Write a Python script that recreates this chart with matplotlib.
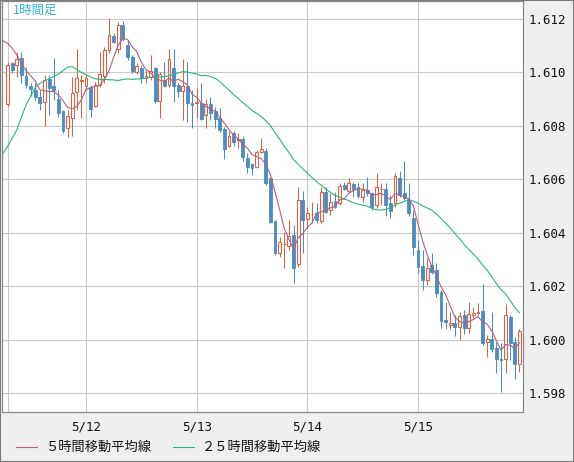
import matplotlib
matplotlib.use("Agg")
import matplotlib.pyplot as plt
import numpy as np
from matplotlib.patches import Rectangle
from matplotlib.lines import Line2D

# ---------------- data (hourly candles) ----------------
opens = [1.60882, 1.61034, 1.61028, 1.61053, 1.60987, 1.60949, 1.60934, 1.60909, 1.60888, 1.60976,
         1.60949, 1.60901, 1.60856, 1.60791, 1.60829, 1.60928, 1.60969, 1.60949, 1.60945, 1.60875,
         1.60953, 1.60987, 1.61084, 1.61138, 1.61087, 1.61178, 1.61103, 1.61059, 1.61003, 1.61016,
         1.60978, 1.60984, 1.61016, 1.60894, 1.60972, 1.60953, 1.61016, 1.60953, 1.60932, 1.60949,
         1.60885, 1.60885, 1.60885, 1.60841, 1.60881, 1.60856, 1.60829, 1.60789, 1.60726, 1.60775,
         1.60749, 1.60751, 1.60679, 1.60658, 1.60645, 1.60701, 1.60706, 1.60604, 1.60444, 1.60324,
         1.60358, 1.60351, 1.60392, 1.60283, 1.60523, 1.60451, 1.60471, 1.60473, 1.60446, 1.60552,
         1.60486, 1.60519, 1.60511, 1.60579, 1.60558, 1.60583, 1.60573, 1.60533, 1.60560, 1.60548,
         1.60504, 1.60563, 1.60563, 1.60511, 1.60513, 1.60604, 1.60548, 1.60523, 1.60455, 1.60336,
         1.60276, 1.60224, 1.60280, 1.60261, 1.60180, 1.60074, 1.60055, 1.60064, 1.60049, 1.60093,
         1.60043, 1.60094, 1.60099, 1.60109, 1.59993, 1.60002, 1.59968, 1.59928, 1.59927, 1.60087,
         1.59991, 1.59908]
highs = [1.61039, 1.61040, 1.61078, 1.61078, 1.61022, 1.60961, 1.60959, 1.60934, 1.60991, 1.60991,
         1.61053, 1.60934, 1.60860, 1.60860, 1.60984, 1.61087, 1.60991, 1.60997, 1.60953, 1.60965,
         1.61077, 1.61095, 1.61203, 1.61147, 1.61190, 1.61193, 1.61121, 1.61065, 1.61034, 1.61028,
         1.61009, 1.61065, 1.61022, 1.61003, 1.61040, 1.61087, 1.61087, 1.60959, 1.61049, 1.61040,
         1.60934, 1.60941, 1.60962, 1.60901, 1.60907, 1.60872, 1.60866, 1.60797, 1.60782, 1.60782,
         1.60772, 1.60762, 1.60698, 1.60661, 1.60710, 1.60756, 1.60719, 1.60605, 1.60448, 1.60386,
         1.60403, 1.60448, 1.60429, 1.60571, 1.60558, 1.60498, 1.60517, 1.60511, 1.60573, 1.60573,
         1.60548, 1.60554, 1.60585, 1.60591, 1.60604, 1.60591, 1.60588, 1.60588, 1.60610, 1.60554,
         1.60623, 1.60588, 1.60585, 1.60542, 1.60623, 1.60633, 1.60670, 1.60585, 1.60486, 1.60373,
         1.60336, 1.60305, 1.60324, 1.60286, 1.60186, 1.60143, 1.60105, 1.60093, 1.60103, 1.60112,
         1.60143, 1.60124, 1.60137, 1.60209, 1.60018, 1.60105, 1.59993, 1.59987, 1.60134, 1.60093,
         1.60012, 1.60039]
lows = [1.60875, 1.60997, 1.60984, 1.60959, 1.60942, 1.60912, 1.60897, 1.60860, 1.60800, 1.60841,
        1.60897, 1.60835, 1.60772, 1.60760, 1.60762, 1.60860, 1.60830, 1.60934, 1.60835, 1.60871,
        1.60946, 1.60961, 1.61072, 1.61109, 1.61072, 1.61119, 1.61047, 1.60997, 1.60994, 1.60959,
        1.60961, 1.60972, 1.60885, 1.60829, 1.60947, 1.60947, 1.60891, 1.60909, 1.60822, 1.60816,
        1.60791, 1.60829, 1.60822, 1.60793, 1.60822, 1.60793, 1.60778, 1.60676, 1.60721, 1.60726,
        1.60718, 1.60669, 1.60623, 1.60617, 1.60642, 1.60698, 1.60579, 1.60436, 1.60317, 1.60311,
        1.60268, 1.60336, 1.60214, 1.60274, 1.60324, 1.60417, 1.60436, 1.60436, 1.60436, 1.60473,
        1.60467, 1.60493, 1.60504, 1.60560, 1.60553, 1.60535, 1.60530, 1.60517, 1.60538, 1.60486,
        1.60493, 1.60504, 1.60463, 1.60455, 1.60497, 1.60534, 1.60523, 1.60463, 1.60317, 1.60250,
        1.60186, 1.60205, 1.60246, 1.60161, 1.60043, 1.60039, 1.60039, 1.60014, 1.59999, 1.60022,
        1.60024, 1.60082, 1.60093, 1.59981, 1.59935, 1.59956, 1.59875, 1.59806, 1.59877, 1.59925,
        1.59852, 1.59881]
closes = [1.61028, 1.61009, 1.61049, 1.60991, 1.60953, 1.60937, 1.60909, 1.60885, 1.60972, 1.60943,
          1.60934, 1.60847, 1.60781, 1.60837, 1.60922, 1.60978, 1.60971, 1.60978, 1.60862, 1.60953,
          1.60994, 1.61084, 1.61140, 1.61115, 1.61178, 1.61124, 1.61059, 1.61006, 1.61024, 1.60978,
          1.60987, 1.61006, 1.60894, 1.60994, 1.60949, 1.61049, 1.60949, 1.60932, 1.60949, 1.60885,
          1.60878, 1.60890, 1.60825, 1.60882, 1.60847, 1.60826, 1.60785, 1.60713, 1.60762, 1.60741,
          1.60752, 1.60683, 1.60648, 1.60642, 1.60701, 1.60713, 1.60588, 1.60442, 1.60324, 1.60365,
          1.60360, 1.60388, 1.60268, 1.60523, 1.60448, 1.60476, 1.60472, 1.60448, 1.60552, 1.60479,
          1.60517, 1.60498, 1.60575, 1.60564, 1.60588, 1.60564, 1.60539, 1.60560, 1.60548, 1.60498,
          1.60571, 1.60565, 1.60504, 1.60483, 1.60613, 1.60542, 1.60529, 1.60473, 1.60348, 1.60274,
          1.60224, 1.60270, 1.60255, 1.60174, 1.60072, 1.60068, 1.60064, 1.60049, 1.60089, 1.60043,
          1.60097, 1.60102, 1.60105, 1.59987, 1.60002, 1.59966, 1.59927, 1.59923, 1.60093, 1.59989,
          1.59908, 1.60033]
# closes of the 5 hours before the window (for the 5-hour average)
prior_closes = [1.61071, 1.61103, 1.61175, 1.61146, 1.61095]
# 25-hour average at candles -1..23 (depends on history before the window)
ma25_early = [1.60698, 1.60723, 1.60755, 1.60785, 1.60833, 1.60878, 1.60912, 1.60944, 1.60959,
              1.60968, 1.60977, 1.60985, 1.60994, 1.61006, 1.61020, 1.61022, 1.61011, 1.61000,
              1.60991, 1.60983, 1.60977, 1.60974, 1.60974, 1.60973, 1.60972]

date_labels = ["5/12", "5/13", "5/14", "5/15"]
date_idx = [17, 41, 65, 89]
extra_grid_idx = [0]
yticks = [1.598, 1.600, 1.602, 1.604, 1.606, 1.608, 1.610, 1.612]
title = "1時間足"
legend_labels = ["５時間移動平均線", "２５時間移動平均線"]

# ---------------- style ----------------
UP = "#dc6446"
DOWN = "#4b8cc3"
MA5C = "#b3607e"
MA25C = "#2fb57d"
GRID = "#c8c8c8"
PANEL = "#efefef"

W, H = 574, 462
fig = plt.figure(figsize=(W / 100, H / 100), dpi=100, facecolor=PANEL)
ax_l, ax_r, ax_t, ax_b = 2, 523, 1, 412
ax = fig.add_axes([ax_l / W, 1 - ax_b / H, (ax_r - ax_l) / W, (ax_b - ax_t) / H])
ax.set_facecolor("white")

n = len(closes)
x = np.arange(n)
o = np.array(opens); h = np.array(highs); l = np.array(lows); c = np.array(closes)
up = c >= o

# grid
for yv in yticks:
    ax.axhline(yv, color=GRID, lw=0.8, zorder=0)
for xi in date_idx + extra_grid_idx:
    ax.axvline(xi, color=GRID, lw=0.8, zorder=0)

# wicks
ax.vlines(x[up], l[up], h[up], color=UP, lw=0.75, zorder=2)
ax.vlines(x[~up], l[~up], h[~up], color=DOWN, lw=0.75, zorder=2)
# bodies
bw = 0.62
ax.bar(x[up], c[up] - o[up], bottom=o[up], width=bw, facecolor="white",
       edgecolor=UP, linewidth=0.8, zorder=3)
ax.bar(x[~up], o[~up] - c[~up], bottom=c[~up], width=bw, facecolor=DOWN,
       edgecolor=DOWN, linewidth=0.6, zorder=3)

# moving averages
allc = np.array(prior_closes + closes)
ma5 = np.convolve(allc, np.ones(5) / 5, mode="valid")      # candles -1..n-1
x_ma = np.arange(-1, n)
ma25_late = [np.mean(c[i - 24:i + 1]) for i in range(24, n)]
ma25 = np.array(ma25_early + ma25_late)
ax.plot(x_ma, ma25, color=MA25C, lw=0.8, zorder=4)
ax.plot(x_ma, ma5, color=MA5C, lw=0.8, zorder=5)

# scales
px_per = (418 - 86) / (89 - 17)
x0 = 17 - (86 - ax_l) / px_per
x1 = 17 + (ax_r - 86) / px_per
ax.set_xlim(x0, x1)
ypx = (393.3 - 19) / (1.612 - 1.598)
ax.set_ylim(1.598 - (ax_b - 393.3) / ypx, 1.612 + (19 - ax_t) / ypx)

ax.yaxis.tick_right()
ax.set_yticks(yticks)
ax.set_yticklabels([f"{v:.3f}" for v in yticks], family="DejaVu Sans Mono", fontsize=9)
ax.tick_params(axis="y", length=0, pad=4, colors="#111111")
ax.set_xticks(date_idx)
ax.set_xticklabels(date_labels, family="DejaVu Sans Mono", fontsize=9)
ax.tick_params(axis="x", length=0, pad=6, colors="#111111")
for s in ax.spines.values():
    s.set_color("#8a8a8a")
    s.set_linewidth(0.9)

# title
ax.text(13 / W, 1 - 10 / H, title, transform=fig.transFigure, color="#33b5e5",
        fontsize=9, family=["Noto Sans CJK JP", "DejaVu Sans"], va="center", ha="left")

# legend
def fx(px):
    return px / W

def fy(py):
    return 1 - py / H

ly = 447
fig.add_artist(Line2D([fx(16), fx(37)], [fy(ly), fy(ly)], color=MA5C, lw=0.8))
fig.text(fx(45), fy(ly), legend_labels[0], fontsize=9.5, va="center", ha="left",
         family=["Noto Sans CJK JP", "DejaVu Sans"], color="#111111")
fig.add_artist(Line2D([fx(173), fx(194)], [fy(ly), fy(ly)], color=MA25C, lw=0.8))
fig.text(fx(202), fy(ly), legend_labels[1], fontsize=9.5, va="center", ha="left",
         family=["Noto Sans CJK JP", "DejaVu Sans"], color="#111111")

# outer frame
fig.add_artist(Rectangle((0, 0), 1, 1, transform=fig.transFigure, fill=False,
                         edgecolor="#7a7a7a", lw=1.5))

fig.savefig("out.png", dpi=100, facecolor=fig.get_facecolor())
